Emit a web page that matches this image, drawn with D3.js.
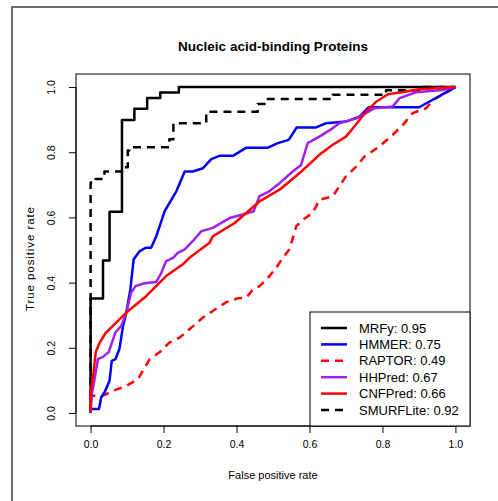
<!DOCTYPE html>
<html>
<head>
<meta charset="utf-8">
<script src="https://cdn.jsdelivr.net/npm/d3@7"></script>
<style>
  body { margin: 0; background: #fff; }
  svg text { font-family: "Liberation Sans", Arial, sans-serif; }
</style>
</head>
<body>
<div id="chart"></div>
<script>
// ROC curves, [fpr, tpr]
var mrfy = [[0,0],[0,0.351],[0.034,0.468],[0.052,0.617],[0.086,0.899],[0.12,0.933],[0.155,0.966],[0.191,0.983],[0.242,1.0],[1,1]];
var smurflite = [[0,0],[0,0.707],[0.014,0.718],[0.038,0.741],[0.09,0.754],[0.102,0.805],[0.106,0.815],[0.216,0.84],[0.227,0.889],[0.317,0.924],[0.458,0.948],[0.481,0.963],[0.664,0.976],[0.81,0.99],[0.9,1.0],[1,1]];
var hmmer = [[0,0],[0,0.012],[0.023,0.012],[0.029,0.048],[0.038,0.063],[0.052,0.099],[0.058,0.16],[0.068,0.165],[0.079,0.196],[0.089,0.267],[0.098,0.308],[0.109,0.379],[0.118,0.471],[0.134,0.496],[0.151,0.507],[0.166,0.507],[0.18,0.542],[0.203,0.619],[0.235,0.68],[0.258,0.741],[0.28,0.741],[0.308,0.751],[0.331,0.779],[0.353,0.789],[0.39,0.789],[0.427,0.814],[0.486,0.814],[0.513,0.828],[0.543,0.838],[0.565,0.876],[0.618,0.876],[0.646,0.889],[0.7,0.894],[0.737,0.909],[0.762,0.938],[0.901,0.938],[1,1]];
var raptor = [[0,0],[0,0.053],[0.034,0.053],[0.061,0.068],[0.098,0.083],[0.13,0.104],[0.162,0.165],[0.189,0.186],[0.216,0.216],[0.244,0.231],[0.271,0.257],[0.308,0.293],[0.335,0.313],[0.372,0.34],[0.404,0.352],[0.427,0.354],[0.445,0.379],[0.463,0.389],[0.483,0.41],[0.509,0.446],[0.527,0.476],[0.545,0.502],[0.553,0.532],[0.564,0.573],[0.582,0.593],[0.609,0.614],[0.627,0.654],[0.664,0.665],[0.7,0.726],[0.728,0.756],[0.751,0.787],[0.792,0.818],[0.828,0.853],[0.856,0.884],[0.883,0.92],[0.92,0.935],[0.938,0.96],[0.975,0.983],[1,1]];
var hhpred = [[0,0],[0.004,0.063],[0.011,0.104],[0.02,0.165],[0.034,0.172],[0.05,0.187],[0.057,0.211],[0.068,0.247],[0.084,0.267],[0.098,0.308],[0.111,0.369],[0.123,0.389],[0.148,0.398],[0.18,0.402],[0.194,0.43],[0.207,0.466],[0.226,0.476],[0.239,0.491],[0.258,0.502],[0.28,0.527],[0.303,0.557],[0.335,0.568],[0.381,0.598],[0.417,0.609],[0.447,0.619],[0.463,0.665],[0.49,0.68],[0.518,0.705],[0.554,0.741],[0.577,0.761],[0.595,0.828],[0.627,0.848],[0.664,0.874],[0.682,0.889],[0.728,0.904],[0.755,0.92],[0.778,0.935],[0.828,0.94],[0.847,0.966],[0.892,0.984],[0.965,0.991],[1,1]];
var cnfpred = [[0,0],[0,0.063],[0.006,0.104],[0.014,0.186],[0.025,0.216],[0.041,0.245],[0.061,0.267],[0.098,0.308],[0.153,0.359],[0.207,0.42],[0.253,0.456],[0.271,0.476],[0.326,0.522],[0.335,0.542],[0.395,0.583],[0.463,0.649],[0.518,0.685],[0.573,0.736],[0.627,0.792],[0.664,0.823],[0.7,0.848],[0.723,0.879],[0.755,0.924],[0.783,0.955],[0.815,0.978],[0.856,0.985],[0.901,0.993],[1,1]];

var series = [
  {name: "MRFy", auc: "0.95", data: mrfy, color: "#000000", dash: null, step: true},
  {name: "HMMER", auc: "0.75", data: hmmer, color: "#0000ff", dash: null},
  {name: "RAPTOR", auc: "0.49", data: raptor, color: "#ff0000", dash: "8,6"},
  {name: "HHPred", auc: "0.67", data: hhpred, color: "#a020f0", dash: null},
  {name: "CNFPred", auc: "0.66", data: cnfpred, color: "#ff0000", dash: null},
  {name: "SMURFLite", auc: "0.92", data: smurflite, color: "#000000", dash: "8,6", step: true}
];
var ticks = [0, 0.2, 0.4, 0.6, 0.8, 1.0];

var W = 498, H = 501;
var box = {left: 76, right: 470, top: 74, bottom: 426};

var svg = d3.select('#chart').append('svg')
  .attr('width', W)
  .attr('height', H);

// outer gray frame
svg.append('rect')
  .attr('x', 12).attr('y', 7)
  .attr('width', 700).attr('height', 700)
  .attr('fill', 'none')
  .attr('stroke', '#6e6e6e')
  .attr('stroke-width', 2);

var x = d3.scaleLinear().domain([-0.04, 1.04]).range([box.left, box.right]);
var y = d3.scaleLinear().domain([-0.04, 1.04]).range([box.bottom, box.top]);

// paint order
var drawOrder = [0, 5, 2, 1, 3, 4];

var g = svg.append('g');
drawOrder.forEach(function(i) {
  var s = series[i];
  var line = d3.line()
    .x(d => x(d[0]))
    .y(d => y(d[1]))
    .curve(s.step ? d3.curveStepAfter : d3.curveLinear);
  g.append('path')
    .datum(s.data)
    .attr('d', line)
    .attr('fill', 'none')
    .attr('stroke', s.color)
    .attr('stroke-width', 2.5)
    .attr('stroke-linejoin', 'round')
    .attr('stroke-dasharray', s.dash);
});

// plot box
svg.append('rect')
  .attr('x', box.left).attr('y', box.top)
  .attr('width', box.right - box.left).attr('height', box.bottom - box.top)
  .attr('fill', 'none')
  .attr('stroke', '#000')
  .attr('stroke-width', 1);

// axes
var xAxis = d3.axisBottom(x).tickValues(ticks).tickFormat(d3.format('.1f')).tickSize(7).tickPadding(8);
var yAxis = d3.axisLeft(y).tickValues(ticks).tickFormat(d3.format('.1f')).tickSize(7).tickPadding(8);

var gx = svg.append('g').attr('transform', 'translate(0,' + box.bottom + ')').call(xAxis);
gx.select('.domain').attr('d', 'M' + x(0) + ',0H' + x(1));
gx.selectAll('text').attr('font-size', 10.5).attr('font-family', '"Liberation Sans", Arial, sans-serif').attr('fill', '#000');

var gy = svg.append('g').attr('transform', 'translate(' + box.left + ',0)').call(yAxis);
gy.select('.domain').attr('d', 'M0,' + y(0) + 'V' + y(1));
gy.selectAll('text')
  .attr('font-size', 10.5)
  .attr('font-family', '"Liberation Sans", Arial, sans-serif')
  .attr('fill', '#000')
  .attr('x', null).attr('dy', null)
  .attr('text-anchor', 'middle')
  .attr('transform', 'translate(-21,0) rotate(-90)');

// titles
svg.append('text')
  .attr('x', (box.left + box.right) / 2).attr('y', 51)
  .attr('text-anchor', 'middle')
  .attr('font-size', 13.5).attr('font-weight', 'bold')
  .text('Nucleic acid-binding Proteins');

svg.append('text')
  .attr('x', (box.left + box.right) / 2).attr('y', 479)
  .attr('text-anchor', 'middle')
  .attr('font-size', 11)
  .text('False positive rate');

svg.append('text')
  .attr('transform', 'translate(34,259) rotate(-90)')
  .attr('text-anchor', 'middle')
  .attr('font-size', 11.5)
  .attr('textLength', 104)
  .attr('lengthAdjust', 'spacing')
  .text('True positive rate');

// legend
var leg = svg.append('g');
leg.append('rect')
  .attr('x', 310).attr('y', 312)
  .attr('width', box.right - 310).attr('height', box.bottom - 312)
  .attr('fill', '#fff')
  .attr('stroke', '#000')
  .attr('stroke-width', 1);

var rows = leg.selectAll('g.row')
  .data(series)
  .enter()
  .append('g')
  .attr('class', 'row')
  .attr('transform', (d, i) => 'translate(0,' + (328 + i * 16.4) + ')');

rows.append('line')
  .attr('x1', 321).attr('x2', 347)
  .attr('stroke', d => d.color)
  .attr('stroke-width', 2.5)
  .attr('stroke-dasharray', d => d.dash ? '8,6' : null);

rows.append('text')
  .attr('x', 359).attr('dy', '0.36em')
  .attr('font-size', 13)
  .text(d => d.name + ': ' + d.auc);
</script>
</body>
</html>
